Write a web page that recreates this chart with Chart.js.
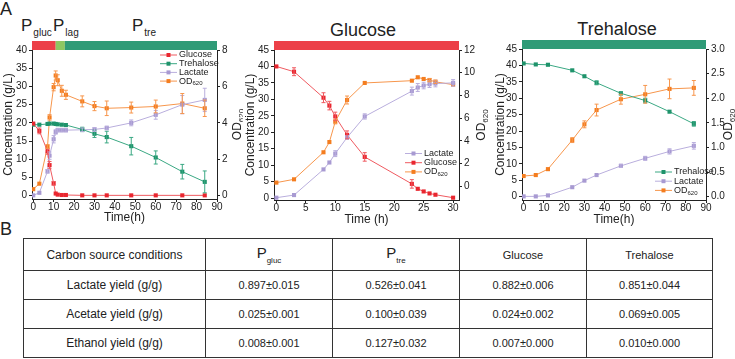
<!DOCTYPE html>
<html lang="en">
<head>
<meta charset="UTF-8" />
<title>Fermentation profiles</title>
<script src="https://cdn.jsdelivr.net/npm/chart.js@4.4.1/dist/chart.umd.min.js"></script>
<style>
  body { margin: 0; background: #fff; font-family: Arial, "Liberation Sans", Helvetica, sans-serif; color: #222; }
  #fig { position: relative; width: 735px; height: 359px; overflow: hidden; }
  #fig canvas { position: absolute; top: 0; }
  .panel { position: absolute; left: 0; font-size: 18px; line-height: 1; }
  .phase { position: absolute; top: 17px; font-size: 17px; line-height: 1; white-space: nowrap; }
  .phase sub { font-size: 10px; vertical-align: -5px; margin-left: 1px; }
  .ttl { position: absolute; font-size: 18px; line-height: 1; transform: translateX(-50%); white-space: nowrap; }
  table { position: absolute; left: 23px; top: 238px; width: 689px; border-collapse: collapse; table-layout: fixed; }
  td { border: 1px solid #333; text-align: center; font-size: 11px; padding: 0; height: 28px; }
  td.lab { font-size: 12px; }
  tr.head td { height: 31px; }
  td .big { font-size: 15px; }
  td sub { font-size: 8px; vertical-align: -5px; }
</style>
</head>
<body>
<div id="fig">
  <div class="panel" style="top:0">A</div>
  <div class="panel" style="top:220px">B</div>
  <div class="phase" style="left:21px">P<sub>gluc</sub></div>
  <div class="phase" style="left:53px">P<sub>lag</sub></div>
  <div class="phase" style="left:132px">P<sub>tre</sub></div>
  <div class="ttl" style="left:363px; top:21px">Glucose</div>
  <div class="ttl" style="left:617px; top:20px">Trehalose</div>
  <canvas id="runChart" width="243" height="228" style="left:0"></canvas>
  <canvas id="glcChart" width="247" height="228" style="left:243px"></canvas>
  <canvas id="treChart" width="245" height="228" style="left:490px"></canvas>
  <table id="yieldTable"></table>
</div>

<script>
  // --- A, left: glucose + trehalose run (Pgluc / Plag / Ptre)
  const timeRun = [0, 3, 7, 8, 10, 11, 12, 14, 16, 24, 30, 36, 48, 60, 73, 84];
  const glucoseRun = [19.8, 17.8, 12.2, 8.4, 3.4, 0.6, 0.3, 0.2, 0.2, 0.1, 0.1, 0.1, 0.1, 0.1, 0.1, 0.1];
  const glucoseRunErr = [0.3, 0.8, 0.8, 1.0, 0.5, 0.3, 0.2, 0.2, 0.2, 0.2, 0.2, 0.2, 0.2, 0.2, 0.2, 0.2];
  const trehaloseRun = [19.5, 19.5, 19.7, 19.8, 19.8, 19.7, 19.6, 19.5, 19.4, 18.2, 17.0, 16.1, 13.6, 10.5, 6.6, 3.8];
  const trehaloseRunErr = [0.3, 0.3, 0.4, 0.4, 0.4, 0.4, 0.4, 0.4, 0.4, 0.6, 1.0, 1.6, 2.4, 1.8, 2.0, 3.0];
  const lactateRun = [0.1, 0.8, 6.7, 11.0, 15.5, 17.5, 18.0, 18.0, 18.0, 18.1, 18.2, 18.6, 20.0, 22.2, 25.0, 26.3];
  const lactateRunErr = [0.2, 0.3, 0.5, 1.0, 1.0, 0.6, 0.5, 0.5, 0.5, 0.5, 0.5, 0.5, 0.8, 1.2, 2.5, 3.2];
  const odRun = [0.36, 0.66, 2.7, 4.3, 5.96, 6.6, 6.34, 5.76, 5.54, 5.18, 4.92, 4.8, 4.84, 4.9, 5.06, 4.8];
  const odRunErr = [0.05, 0.05, 0.1, 0.15, 0.2, 0.25, 0.3, 0.3, 0.25, 0.3, 0.25, 0.4, 0.3, 0.35, 0.55, 0.45];
  const phaseEdgesRun = [-0.6, 11, 15.5, 90];

  // --- A, middle: glucose only
  const timeGlc = [0, 3, 8, 9, 10, 12, 15, 23, 24, 25, 26, 27, 30];
  const glucoseGlc = [40.0, 38.4, 30.5, 28.1, 24.8, 19.2, 12.5, 4.3, 2.8, 2.0, 1.4, 1.0, 0.1];
  const glucoseGlcErr = [0.3, 1.2, 1.5, 1.3, 1.3, 1.2, 1.3, 1.3, 0.4, 0.3, 0.3, 0.3, 0.3];
  const lactateGlc = [0.1, 0.9, 8.7, 10.8, 13.5, 18.4, 24.8, 32.5, 33.6, 34.2, 34.6, 34.8, 35.0];
  const lactateGlcErr = [0.2, 0.2, 0.3, 0.3, 0.9, 0.5, 0.8, 1.2, 1.2, 1.0, 1.0, 1.0, 1.0];
  const odGlc = [0.33, 0.62, 3.0, 3.9, 5.7, 7.6, 9.1, 9.3, 9.6, 9.45, 9.35, 9.2, 8.95];
  const odGlcErr = [0.05, 0.05, 0.1, 0.1, 0.2, 0.35, 0.1, 0.1, 0.1, 0.1, 0.15, 0.15, 0.1];

  // --- A, right: trehalose only
  const timeTre = [0, 6, 12, 24, 30, 36, 48, 60, 72, 84];
  const trehaloseTre = [40.6, 40.3, 40.2, 38.5, 36.7, 34.7, 31.5, 29.3, 25.9, 22.2];
  const trehaloseTreErr = [0.3, 0.3, 0.3, 0.3, 0.4, 0.6, 0.5, 0.7, 0.4, 0.7];
  const lactateTre = [0.1, 0.1, 0.4, 2.9, 4.9, 6.6, 9.4, 11.7, 13.8, 15.5];
  const lactateTreErr = [0.2, 0.2, 0.2, 0.2, 0.3, 0.3, 0.5, 0.6, 0.8, 1.0];
  const odTre = [0.42, 0.44, 0.56, 1.15, 1.47, 1.76, 1.98, 2.08, 2.19, 2.21];
  const odTreErr = [0.02, 0.03, 0.03, 0.05, 0.07, 0.12, 0.1, 0.18, 0.2, 0.15];

  // tick labels
  const timeTicks90 = [0, 10, 20, 30, 40, 50, 60, 70, 80, 90];
  const timeTicks30 = [0, 5, 10, 15, 20, 25, 30];
  const concTicks40 = [0, 5, 10, 15, 20, 25, 30, 35, 40];
  const concTicks45 = [0, 5, 10, 15, 20, 25, 30, 35, 40, 45];
  const odTicks8 = [0, 2, 4, 6, 8];
  const odTicks12 = [0, 2, 4, 6, 8, 10, 12];
  const odTicks3 = [0, 0.5, 1.0, 1.5, 2.0, 2.5, 3.0];

  // --- B: yields
  const tableHead = ['Carbon source conditions', 'P_gluc', 'P_tre', 'Glucose', 'Trehalose'];
  const yieldLabels = ['Lactate yield (g/g)', 'Acetate yield (g/g)', 'Ethanol yield (g/g)'];
  const yieldPgluc = ['0.897±0.015', '0.025±0.001', '0.008±0.001'];
  const yieldPtre = ['0.526±0.041', '0.100±0.039', '0.127±0.032'];
  const yieldGlucose = ['0.882±0.006', '0.024±0.002', '0.007±0.000'];
  const yieldTrehalose = ['0.851±0.044', '0.069±0.005', '0.010±0.000'];

  const FONT = 'Arial, "Liberation Sans", Helvetica, sans-serif';
  const INK = '#222';
  const RED = '#e9262f', RED_L = '#ef5a60';
  const GREEN = '#1f936b', GREEN_L = '#3aa883';
  const PURPLE = '#a89ad2', PURPLE_L = '#b9aedd';
  const ORANGE = '#f47d1f', ORANGE_L = '#f7964c';

  Chart.defaults.font.family = FONT;
  Chart.defaults.color = INK;
  Chart.defaults.animation = false;
  Chart.defaults.plugins.legend.display = false;
  Chart.defaults.plugins.tooltip.enabled = false;

  // text with optional subscript: "OD_620"
  function subText(ctx, text, x, y, size) {
    const parts = text.split('_');
    ctx.font = size + 'px ' + FONT;
    ctx.fillText(parts[0], x, y);
    let w = ctx.measureText(parts[0]).width;
    if (parts[1]) {
      const s = Math.round(size * 0.7);
      ctx.font = s + 'px ' + FONT;
      ctx.fillText(parts[1], x + w, y + size * 0.3);
      w += ctx.measureText(parts[1]).width;
    }
    return w;
  }
  function subWidth(ctx, text, size) {
    const parts = text.split('_');
    ctx.font = size + 'px ' + FONT;
    let w = ctx.measureText(parts[0]).width;
    if (parts[1]) {
      ctx.font = Math.round(size * 0.7) + 'px ' + FONT;
      w += ctx.measureText(parts[1]).width;
    }
    return w;
  }

  const errorBars = {
    id: 'errorBars',
    afterDatasetsDraw(chart) {
      const ctx = chart.ctx;
      chart.data.datasets.forEach((ds, i) => {
        if (!ds.errors) return;
        const meta = chart.getDatasetMeta(i);
        const ys = chart.scales[ds.yAxisID];
        ctx.save();
        ctx.strokeStyle = ds.borderColor;
        ctx.lineWidth = 1;
        meta.data.forEach((pt, j) => {
          const e = ds.errors[j];
          const v = ds.data[j].y;
          const top = ys.getPixelForValue(v + e);
          const bot = ys.getPixelForValue(v - e);
          if (bot - top < 3) return;
          ctx.beginPath();
          ctx.moveTo(pt.x, top); ctx.lineTo(pt.x, bot);
          ctx.moveTo(pt.x - 2, top); ctx.lineTo(pt.x + 2, top);
          ctx.moveTo(pt.x - 2, bot); ctx.lineTo(pt.x + 2, bot);
          ctx.stroke();
        });
        ctx.restore();
      });
    }
  };

  // coloured strip above the plot
  const phaseBar = {
    id: 'phaseBar',
    afterDraw(chart, args, opts) {
      const { ctx, chartArea } = chart;
      const xs = chart.scales.x;
      opts.edges.slice(0, -1).forEach((e, i) => {
        const x0 = Math.max(chartArea.left, xs.getPixelForValue(e));
        const x1 = Math.min(chartArea.right, xs.getPixelForValue(opts.edges[i + 1]));
        ctx.fillStyle = opts.colors[i];
        ctx.fillRect(x0, chartArea.top - 9, x1 - x0, 9);
      });
    }
  };

  const innerLegend = {
    id: 'innerLegend',
    afterDraw(chart, args, opts) {
      const ctx = chart.ctx;
      ctx.save();
      ctx.textBaseline = 'middle';
      opts.order.forEach((idx, k) => {
        const ds = chart.data.datasets[idx];
        const y = opts.y + k * opts.rowH;
        ctx.strokeStyle = ds.borderColor;
        ctx.lineWidth = 1;
        ctx.beginPath();
        ctx.moveTo(opts.x, y); ctx.lineTo(opts.x + 17, y);
        ctx.stroke();
        ctx.fillStyle = ds.pointBackgroundColor;
        ctx.fillRect(opts.x + 6.5, y - 2, 4, 4);
        ctx.fillStyle = INK;
        subText(ctx, ds.label, opts.x + 19, y, 9);
      });
      ctx.restore();
    }
  };

  const rightTitle = {
    id: 'rightTitle',
    afterDraw(chart, args, opts) {
      const { ctx, chartArea } = chart;
      ctx.save();
      ctx.translate(opts.x, (chartArea.top + chartArea.bottom) / 2);
      ctx.rotate(-Math.PI / 2);
      ctx.fillStyle = INK;
      ctx.textBaseline = 'middle';
      const w = subWidth(ctx, opts.text, 12);
      subText(ctx, opts.text, -w / 2, 0, 12);
      ctx.restore();
    }
  };

  function series(label, time, vals, errs, mark, line, axis) {
    return {
      label,
      data: time.map((t, i) => ({ x: t, y: vals[i] })),
      errors: errs,
      borderColor: line,
      backgroundColor: mark,
      pointBackgroundColor: mark,
      pointBorderColor: mark,
      borderWidth: 1,
      pointStyle: 'rect',
      pointRadius: 2.9,
      pointBorderWidth: 0,
      tension: 0,
      yAxisID: axis
    };
  }

  function axisX(min, max, ticks, title, height, titlePad) {
    return {
      type: 'linear', position: 'bottom', min, max,
      afterBuildTicks: s => { s.ticks = ticks.map(v => ({ value: v })); },
      afterFit: s => { s.height = height; },
      grid: { drawOnChartArea: false, color: INK, tickLength: 3 },
      border: { color: INK },
      ticks: { color: INK, font: { size: 10, lineHeight: 1 }, padding: 0, maxRotation: 0, autoSkip: false },
      title: { display: true, text: title, color: INK, font: { size: 12, lineHeight: 1 }, padding: { top: 0, bottom: titlePad } }
    };
  }

  function axisY(pos, min, max, ticks, width, fmt, title, titlePad) {
    return {
      type: 'linear', position: pos, min, max,
      afterBuildTicks: s => { s.ticks = ticks.map(v => ({ value: v })); },
      afterFit: s => { s.width = width; },
      grid: { drawOnChartArea: false, color: INK, tickLength: 3 },
      border: { color: INK },
      ticks: { color: INK, font: { size: 10 }, padding: 2, autoSkip: false, callback: fmt },
      title: title
        ? { display: true, text: title, color: INK, font: { size: 12, lineHeight: 1 }, padding: { top: titlePad, bottom: 0 } }
        : { display: false }
    };
  }

  const plain = v => String(v);
  const oneDec = v => v.toFixed(1);

  new Chart(document.getElementById('runChart'), {
    type: 'line',
    data: {
      datasets: [
        series('Glucose', timeRun, glucoseRun, glucoseRunErr, RED, RED_L, 'y'),
        series('Trehalose', timeRun, trehaloseRun, trehaloseRunErr, GREEN, GREEN_L, 'y'),
        series('Lactate', timeRun, lactateRun, lactateRunErr, PURPLE, PURPLE_L, 'y'),
        series('OD_620', timeRun, odRun, odRunErr, ORANGE, ORANGE_L, 'y1')
      ]
    },
    options: {
      responsive: false,
      layout: { padding: { top: 50, left: 0, right: 0, bottom: 0 } },
      scales: {
        x: axisX(-0.6, 90, timeTicks90, 'Time(h)', 29, 4),
        y: axisY('left', -0.9, 40, concTicks40, 32, plain, 'Concentration (g/L)', 3),
        y1: axisY('right', -0.18, 8, odTicks8, 26, plain)
      },
      plugins: {
        phaseBar: { edges: phaseEdgesRun, colors: ['#ec4048', '#8cc762', '#2f9b77'] },
        innerLegend: { x: 160, y: 55, rowH: 8.7, order: [0, 1, 2, 3] },
        rightTitle: { text: 'OD_620', x: 238 }
      }
    },
    plugins: [errorBars, phaseBar, innerLegend, rightTitle]
  });

  new Chart(document.getElementById('glcChart'), {
    type: 'line',
    data: {
      datasets: [
        series('Lactate', timeGlc, lactateGlc, lactateGlcErr, PURPLE, PURPLE_L, 'y'),
        series('OD_620', timeGlc, odGlc, odGlcErr, ORANGE, ORANGE_L, 'y1'),
        series('Glucose', timeGlc, glucoseGlc, glucoseGlcErr, RED, RED_L, 'y')
      ]
    },
    options: {
      responsive: false,
      layout: { padding: { top: 50, left: 0, right: 0, bottom: 0 } },
      scales: {
        x: axisX(-0.4, 31, timeTicks30, 'Time (h)', 28, 2),
        y: axisY('left', -0.6, 45, concTicks45, 31, plain, 'Concentration (g/L)', 2),
        y1: axisY('right', -1.2, 12, odTicks12, 31, plain)
      },
      plugins: {
        phaseBar: { edges: [-0.4, 31], colors: ['#ec4048'] },
        innerLegend: { x: 162, y: 153.5, rowH: 9.2, order: [0, 2, 1] },
        rightTitle: { text: 'OD_620', x: 239 }
      }
    },
    plugins: [errorBars, phaseBar, innerLegend, rightTitle]
  });

  new Chart(document.getElementById('treChart'), {
    type: 'line',
    data: {
      datasets: [
        series('Trehalose', timeTre, trehaloseTre, trehaloseTreErr, GREEN, GREEN_L, 'y'),
        series('Lactate', timeTre, lactateTre, lactateTreErr, PURPLE, PURPLE_L, 'y'),
        series('OD_620', timeTre, odTre, odTreErr, ORANGE, ORANGE_L, 'y1')
      ]
    },
    options: {
      responsive: false,
      layout: { padding: { top: 49, left: 0, right: 0, bottom: 0 } },
      scales: {
        x: axisX(-0.8, 90, timeTicks90, 'Time(h)', 28, 2),
        y: axisY('left', -1, 45, concTicks45, 32, plain, 'Concentration (g/L)', 5),
        y1: axisY('right', -1 / 15, 3, odTicks3, 29, oneDec)
      },
      plugins: {
        phaseBar: { edges: [-0.8, 90], colors: ['#2f9b77'] },
        innerLegend: { x: 165, y: 172, rowH: 9.2, order: [0, 1, 2] },
        rightTitle: { text: 'OD_620', x: 239 }
      }
    },
    plugins: [errorBars, phaseBar, innerLegend, rightTitle]
  });

  // table B
  const colWidths = [182, 127, 127, 127, 126];
  function headCell(t) {
    const p = t.split('_');
    return p[1] ? '<span class="big">' + p[0] + '</span><sub>' + p[1] + '</sub>' : t;
  }
  const table = document.getElementById('yieldTable');
  let html = '<colgroup>' + colWidths.map(w => '<col style="width:' + w + 'px">').join('') + '</colgroup>';
  html += '<tr class="head">' + tableHead.map((t, i) => '<td' + (i === 0 ? ' class="lab"' : '') + '>' + headCell(t) + '</td>').join('') + '</tr>';
  yieldLabels.forEach((lab, r) => {
    html += '<tr><td class="lab">' + lab + '</td><td>' + yieldPgluc[r] + '</td><td>' + yieldPtre[r] +
      '</td><td>' + yieldGlucose[r] + '</td><td>' + yieldTrehalose[r] + '</td></tr>';
  });
  table.innerHTML = html;
</script>
</body>
</html>
